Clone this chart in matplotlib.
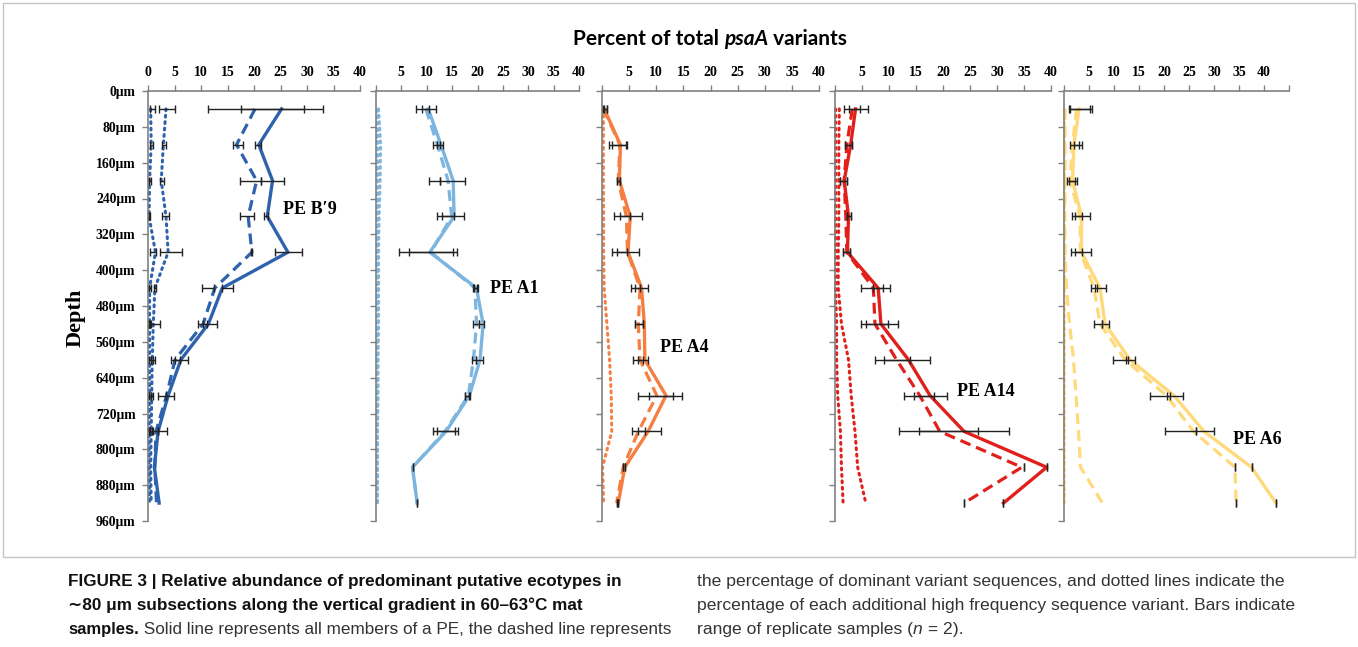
import numpy as np
import matplotlib
matplotlib.use('Agg')
import matplotlib.pyplot as plt
from matplotlib.patches import Rectangle

plt.rcParams['font.family'] = ['Liberation Serif', 'DejaVu Serif']
plt.rcParams['font.weight'] = 'bold'

W, H = 1358, 647
nan = np.nan

# depth of each ~80 um subsection (midpoints)
depth = [40, 120, 200, 280, 360, 440, 520, 600, 680, 760, 840, 920]
depth_ticks = [0, 80, 160, 240, 320, 400, 480, 560, 640, 720, 800, 880, 960]
depth_labels = ['0μm', '80μm', '160μm', '240μm', '320μm', '400μm', '480μm',
                '560μm', '640μm', '720μm', '800μm', '880μm', '960μm']

# PE B'9
b9_solid = [25.2, 20.9, 23.5, 22.5, 26.4, 14.0, 11.4, 6.2, 3.8, 1.9, 1.2, 2.1]
b9_solid_lo = [17.6, 20.1, 21.4, 21.9, 24.0, 14.0, 10.3, 5.1, 3.4, 1.8, nan, nan]
b9_solid_hi = [33.0, 21.3, 25.7, 22.7, 29.1, 16.1, 13.1, 7.6, 4.9, 3.6, nan, nan]
b9_dash = [20.2, 16.7, 20.5, 18.9, 19.6, 12.6, 10.4, 5.1, 3.5, 1.5, 1.3, 1.6]
b9_dash_lo = [11.3, 16.0, 17.4, 17.4, 19.5, 10.1, 9.4, 4.3, 1.8, 1.0, nan, nan]
b9_dash_hi = [29.5, 17.9, 21.4, 20.0, 19.7, 12.5, 11.1, 6.0, 3.4, 1.8, nan, nan]
b9_dot1 = [0.5, 0.6, 0.3, 0.2, 1.4, 0.3, 0.3, 0.3, 0.3, 0.2, 0.2, 0.3]
b9_dot1_lo = [0.3, 0.3, 0.2, 0.1, 0.3, 0.2, 0.2, 0.1, 0.2, 0.1, nan, nan]
b9_dot1_hi = [1.3, 0.9, 0.6, 0.4, 1.6, 0.6, 0.5, 1.3, 0.5, 0.3, nan, nan]
b9_dot2 = [3.4, 2.9, 2.5, 3.4, 3.8, 1.3, 1.0, 0.8, 0.7, 0.6, 0.5, 0.6]
b9_dot2_lo = [2.1, 2.6, 2.2, 2.6, 2.3, 1.1, 0.3, 0.6, 0.5, 0.4, nan, nan]
b9_dot2_hi = [5.1, 3.4, 3.0, 4.0, 6.5, 1.5, 2.3, 1.0, 0.9, 0.8, nan, nan]

# PE A1
a1_solid = [10.3, 12.8, 15.2, 15.4, 10.6, 19.8, 21.1, 20.5, 18.4, 13.8, 7.2, 8.1]
a1_solid_lo = [9.0, 12.1, 12.6, 13.1, 4.6, 19.3, 20.3, 19.8, 17.6, 12.1, nan, nan]
a1_solid_hi = [11.9, 13.3, 17.5, 17.4, 16.0, 20.0, 21.3, 21.0, 18.5, 16.2, nan, nan]
a1_dash = [9.8, 12.1, 14.2, 14.9, 10.8, 19.5, 19.8, 19.2, 18.2, 13.6, 7.2, 8.1]
a1_dash_lo = [7.8, 11.3, 10.5, 12.1, 6.6, 19.2, 19.2, 19.0, 17.6, 11.2, 7.2, 8.1]
a1_dash_hi = [10.5, 12.6, 12.6, 15.4, 15.2, 19.9, 20.3, 19.8, 18.4, 15.5, 7.2, 8.1]
a1_dot1 = [0.2, 0.2, 0.2, 0.2, 0.2, 0.2, 0.2, 0.2, 0.2, 0.2, 0.2, 0.2]
a1_dot2 = [0.5, 0.9, 0.8, 0.6, 0.5, 0.5, 0.5, 0.4, 0.4, 0.3, 0.3, 0.3]

# PE A4
a4_solid = [0.4, 3.4, 3.2, 5.2, 4.8, 7.3, 7.8, 7.9, 11.8, 8.5, 4.2, 3.0]
a4_solid_lo = [0.4, 1.8, 2.7, 3.3, 2.7, 6.1, 6.1, 6.6, 8.7, 6.6, 4.2, 3.0]
a4_solid_hi = [0.9, 4.6, 3.3, 7.3, 6.9, 8.4, 7.6, 8.4, 14.8, 10.9, 4.2, 3.0]
a4_dash = [0.25, 3.3, 3.0, 4.5, 4.7, 7.0, 6.7, 7.0, 10.1, 6.7, 3.9, 2.7]
a4_dash_lo = [0.1, 1.3, 2.7, 2.2, 1.8, 5.3, 6.1, 5.8, 6.7, 5.6, 3.9, 2.7]
a4_dash_hi = [0.9, 4.4, 3.3, 5.2, 4.7, 7.0, 7.6, 7.5, 13.1, 8.0, 3.9, 2.7]
a4_dot = [0.25, 0.25, 0.25, 0.3, 0.3, 0.4, 0.9, 1.4, 1.7, 1.8, 0.1, 0.3]

# PE A14
a14_solid = [3.8, 2.9, 1.7, 2.5, 2.3, 8.0, 8.5, 13.6, 17.6, 23.9, 39.2, 31.2]
a14_solid_lo = [2.6, 1.9, 0.9, 2.2, 1.5, 7.0, 5.7, 9.1, 14.7, 15.6, 39.2, 31.2]
a14_solid_hi = [6.2, 3.1, 2.2, 2.9, 2.8, 10.2, 11.6, 17.5, 20.7, 32.2, 39.2, 31.2]
a14_dash = [3.2, 2.2, 1.7, 2.0, 2.2, 7.1, 7.4, 11.4, 15.7, 19.4, 34.6, 23.9]
a14_dash_lo = [1.7, 1.9, 0.9, 2.2, 1.5, 4.9, 4.8, 7.4, 12.8, 11.9, 35.0, 23.9]
a14_dash_hi = [4.6, 3.1, 2.2, 2.9, 2.8, 8.8, 9.8, 13.8, 18.3, 26.4, 35.0, 23.9]
a14_dot1 = [0.1, 0.1, 0.1, 0.1, 0.1, 0.1, 0.3, 0.3, 0.5, 1.0, 1.2, 1.5]
a14_dot2 = [0.8, 0.7, 0.7, 0.7, 0.6, 0.6, 1.2, 2.5, 3.0, 3.7, 4.2, 5.7]

# PE A6
a6_solid = [3.0, 2.0, 1.7, 3.5, 3.5, 7.2, 8.2, 13.2, 22.0, 28.0, 37.5, 42.4]
a6_solid_lo = [1.2, 1.9, 1.0, 2.2, 2.2, 6.2, 7.5, 12.4, 20.5, 26.4, 37.5, 42.4]
a6_solid_hi = [5.5, 3.5, 2.5, 5.1, 5.3, 8.4, 8.9, 14.2, 23.7, 29.9, 37.5, 42.4]
a6_dash = [2.5, 1.7, 1.2, 3.2, 3.3, 6.0, 7.2, 12.2, 20.5, 25.9, 34.2, 34.4]
a6_dash_lo = [0.9, 1.1, 0.5, 1.5, 1.3, 5.3, 6.0, 9.7, 17.2, 20.2, 34.2, 34.4]
a6_dash_hi = [5.2, 2.9, 2.2, 3.5, 3.5, 6.6, 7.6, 12.8, 21.2, 26.4, 34.2, 34.4]
a6_dash2 = [0.2, 0.2, 0.2, 0.2, 0.2, 0.5, 1.1, 1.9, 2.4, 2.9, 3.3, 7.7]
a6_dot = [0.05, 0.05, 0.05, 0.05, 0.05, 0.05, 0.05, 0.05, 0.05, 0.05, 0.05, 0.05]

fig = plt.figure(figsize=(W / 100, H / 100), dpi=100)
AX_COL = '#808080'


def add_panel(x0, x1, xmax, color, solid, dashes, dots, bars, label, lab_x, lab_d, first=False):
    ax = fig.add_axes([x0 / W, 1 - 521 / H, (x1 - x0) / W, 430 / H])
    ax.set_xlim(0, xmax)
    ax.set_ylim(960, 0)
    for s in ['right', 'bottom']:
        ax.spines[s].set_visible(False)
    for s in ['left', 'top']:
        ax.spines[s].set_color(AX_COL)
        ax.spines[s].set_linewidth(1.2)
    ax.xaxis.tick_top()
    xt = list(range(0, xmax + 1, 5))
    ax.set_xticks(xt)
    ax.set_xticklabels([str(v) if (v > 0 or first) and v <= 40 else '' for v in xt])
    ax.set_yticks(depth_ticks)
    ax.set_yticklabels(depth_labels if first else [])
    ax.tick_params(axis='x', length=4, width=1, color=AX_COL, pad=5, labelsize=10)
    ax.tick_params(axis='y', length=4, width=1, color=AX_COL, pad=5, labelsize=9.8)
    ax.patch.set_alpha(0)

    for d in dots:
        ax.plot(d, depth, color=color, lw=2.2, ls=(0, (0.6, 1.5)),
                dash_capstyle='round', zorder=2, clip_on=False)
    for d in dashes:
        ax.plot(d, depth, color=color, lw=2.3, ls=(0, (3.4, 1.9)), zorder=2)
    ax.plot(solid, depth, color=color, lw=2.4, zorder=2.5)

    for lo, hi in bars:
        ax.hlines(depth, lo, hi, color='#222222', lw=1.0, zorder=3)
        ax.plot(lo, depth, ls='none', marker='|', ms=6, mew=1.0, color='#222222', zorder=3)
        ax.plot(hi, depth, ls='none', marker='|', ms=6, mew=1.0, color='#222222', zorder=3)

    ax.text(lab_x, lab_d, label, fontsize=13, fontweight='bold', color='black',
            ha='left', va='center', family=['Liberation Serif', 'DejaVu Serif'])
    return ax


add_panel(148, 360, 40, '#2E62AC', b9_solid, [b9_dash], [b9_dot1, b9_dot2],
          [(b9_solid_lo, b9_solid_hi), (b9_dash_lo, b9_dash_hi),
           (b9_dot1_lo, b9_dot1_hi), (b9_dot2_lo, b9_dot2_hi)],
          'PE B\u20329', 25.5, 265, first=True)
add_panel(376, 579, 40, '#7DB5DF', a1_solid, [a1_dash], [a1_dot1, a1_dot2],
          [(a1_solid_lo, a1_solid_hi), (a1_dash_lo, a1_dash_hi)],
          'PE A1', 22.4, 441)
add_panel(602, 819, 40, '#F57F43', a4_solid, [a4_dash], [a4_dot],
          [(a4_solid_lo, a4_solid_hi), (a4_dash_lo, a4_dash_hi)],
          'PE A4', 10.7, 572)
add_panel(835, 1051, 40, '#E2201B', a14_solid, [a14_dash], [a14_dot1, a14_dot2],
          [(a14_solid_lo, a14_solid_hi), (a14_dash_lo, a14_dash_hi)],
          'PE A14', 22.6, 672)
add_panel(1064, 1289, 45, '#FFD97A', a6_solid, [a6_dash, a6_dash2], [a6_dot],
          [(a6_solid_lo, a6_solid_hi), (a6_dash_lo, a6_dash_hi)],
          'PE A6', 33.8, 777)

fig.text(76 / W, 1 - 318 / H, 'Depth', rotation=90, fontsize=16, fontweight='bold',
         ha='center', va='center')

# outer frame
fig.add_artist(Rectangle((3 / W, 1 - 557 / H), 1352 / W, 554 / H, transform=fig.transFigure,
                         fill=False, edgecolor='#c4c4c4', lw=1))


def put_runs(x, y, runs, center=False):
    r = fig.canvas.get_renderer()
    texts = [fig.text(0, 1 - y / H, s, va='baseline', ha='left', **kw) for s, kw in runs]
    widths = [t.get_window_extent(renderer=r).width for t in texts]
    if center:
        x = x - sum(widths) / 2
    for t, w in zip(texts, widths):
        t.set_x(x / W)
        x += w


title_kw = dict(family=['Lato', 'DejaVu Sans'], fontsize=15, fontweight='bold', color='black')
put_runs(710, 45, [('Percent of total ', title_kw),
                   ('psaA', dict(title_kw, style='italic')),
                   (' variants', title_kw)], center=True)

cap_b = dict(family=['Liberation Sans', 'DejaVu Sans'], fontsize=12.3, fontweight='bold', color='#111111')
cap_r = dict(family=['Liberation Sans', 'DejaVu Sans'], fontsize=12.6, fontweight='normal', color='#333333')

put_runs(68, 586, [('FIGURE 3 | Relative abundance of predominant putative ecotypes in', cap_b)])
put_runs(68, 610, [('\u223c80 μm subsections along the vertical gradient in 60\u201363°C mat', cap_b)])
put_runs(68, 634, [('samples.', dict(cap_b, fontsize=12.0)),
                   (' Solid line represents all members of a PE, the dashed line represents',
                    dict(cap_r, fontsize=12.3))])
put_runs(697, 586, [('the percentage of dominant variant sequences, and dotted lines indicate the', cap_r)])
put_runs(697, 610, [('percentage of each additional high frequency sequence variant. Bars indicate', cap_r)])
put_runs(697, 634, [('range of replicate samples (', cap_r),
                    ('n', dict(cap_r, style='italic')),
                    (' = 2).', cap_r)])

plt.savefig('out.png', dpi=100)
